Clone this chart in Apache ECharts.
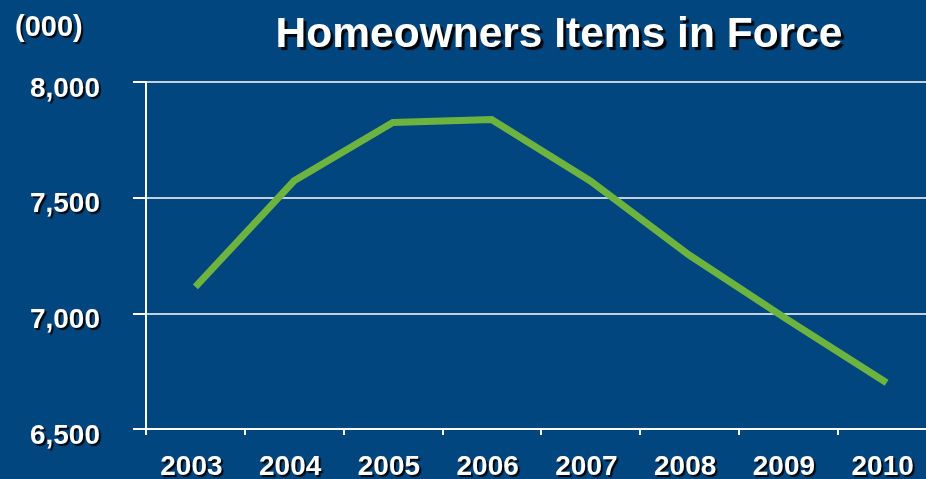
<!DOCTYPE html>
<html>
<head>
<meta charset="utf-8">
<script src="https://cdn.jsdelivr.net/npm/echarts@6/dist/echarts.min.js"></script>
<style>
  html, body { margin: 0; padding: 0; background: #01467f; }
  #chart { width: 926px; height: 479px; }
</style>
</head>
<body>
<div id="chart"></div>
<script>
// Homeowners items in force, thousands
const years = ['2003', '2004', '2005', '2006', '2007', '2008', '2009', '2010']
const itemsInForce = [7114, 7573, 7825, 7838, 7572, 7252, 6972, 6700]

const font = 'Liberation Sans, Arial, sans-serif'
const shadow = {
  textShadowColor: 'rgba(0,0,0,0.9)',
  textShadowOffsetX: 2,
  textShadowOffsetY: 2,
  textShadowBlur: 1
}

const chart = echarts.init(document.getElementById('chart'))

chart.setOption({
  backgroundColor: '#01467f',
  animation: false,
  title: [
    {
      text: 'Homeowners Items in Force',
      left: 554,
      textAlign: 'center',
      top: 9,
      textStyle: {
        color: '#fff',
        fontFamily: font,
        fontWeight: 'bold',
        fontSize: 42.5,
        textShadowColor: 'rgba(0,0,0,0.9)',
        textShadowOffsetX: 3,
        textShadowOffsetY: 3,
        textShadowBlur: 1
      }
    },
    {
      text: '(000)',
      left: 10,
      top: 8,
      textStyle: Object.assign({
        color: '#fff',
        fontFamily: font,
        fontWeight: 'bold',
        fontSize: 29
      }, shadow)
    }
  ],
  grid: {
    left: 146,
    top: 82,
    bottom: 50,
    width: 790,
    outerBoundsMode: 'none'
  },
  xAxis: {
    type: 'category',
    data: years,
    boundaryGap: true,
    axisLine: { lineStyle: { color: '#fff', width: 2 } },
    axisTick: { show: true, length: 6, lineStyle: { color: '#fff', width: 2 } },
    axisLabel: Object.assign({
      color: '#fff',
      fontFamily: font,
      fontWeight: 'bold',
      fontSize: 28,
      margin: 24,
      padding: [0, 8, 0, 0]
    }, shadow)
  },
  yAxis: {
    type: 'value',
    min: 6500,
    max: 8000,
    interval: 500,
    axisLine: { show: true, lineStyle: { color: '#fff', width: 2 } },
    axisTick: { show: true, length: 13, lineStyle: { color: '#fff', width: 2 } },
    splitLine: { lineStyle: { color: '#fff', width: 1.5 } },
    axisLabel: Object.assign({
      color: '#fff',
      fontFamily: font,
      fontWeight: 'bold',
      fontSize: 28,
      margin: 46,
      verticalAlign: 'top',
      lineHeight: 14,
      formatter: v => v.toLocaleString('en-US')
    }, shadow)
  },
  series: [
    {
      type: 'line',
      data: itemsInForce,
      symbol: 'none',
      lineStyle: { color: '#6cb33f', width: 7, cap: 'butt', join: 'miter' }
    }
  ]
})
</script>
</body>
</html>
